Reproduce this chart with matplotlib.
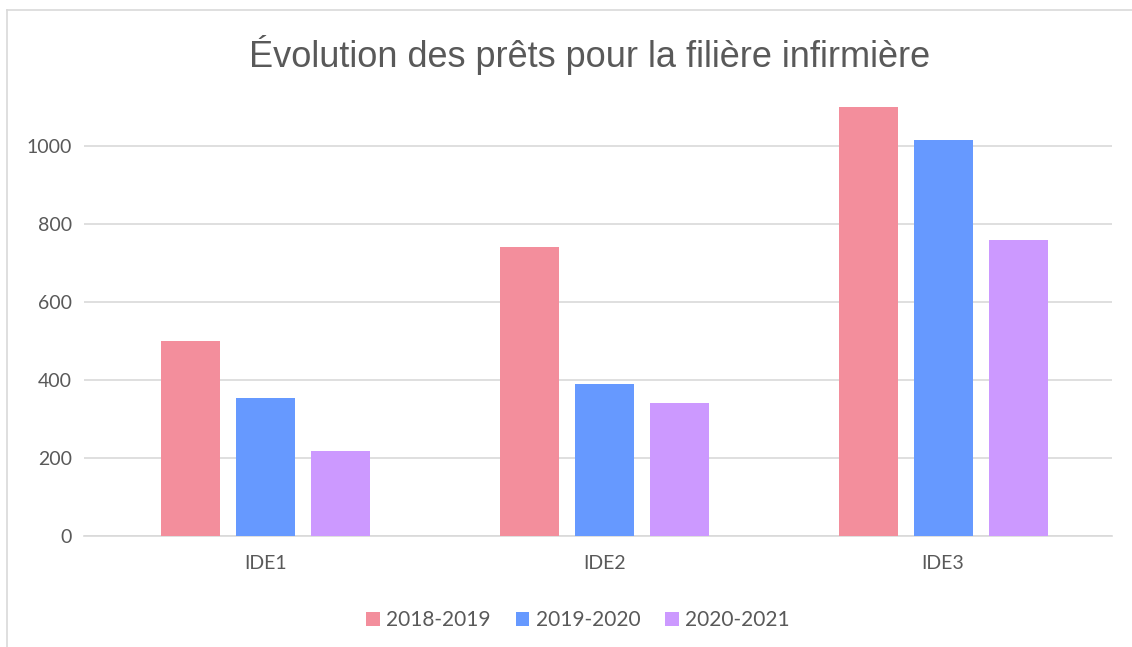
import matplotlib
matplotlib.use("Agg")
import matplotlib.pyplot as plt
from matplotlib.lines import Line2D
import numpy as np

categories = ["IDE1", "IDE2", "IDE3"]
series_names = ["2018-2019", "2019-2020", "2020-2021"]
v_2018_2019 = [499, 741, 1100]
v_2019_2020 = [354, 389, 1015]
v_2020_2021 = [218, 341, 759]
yticks = [0, 200, 400, 600, 800, 1000]

colors = ["#F38E9C", "#6699FF", "#CC99FF"]
text_color = "#595959"

W, H = 1132, 647
fig = plt.figure(figsize=(W / 100, H / 100), dpi=100)
ax = fig.add_axes([84 / W, 1 - 536 / H, (1112 - 84) / W, (536 - 106) / H])

x = np.arange(len(categories))
bw = 0.174
off = 0.2212
for i, (vals, name) in enumerate(zip([v_2018_2019, v_2019_2020, v_2020_2021], series_names)):
    ax.bar(x + (i - 1) * off, vals, width=bw, color=colors[i], label=name, zorder=3)

ax.set_xlim(-0.5354, 2.4985)
ax.set_ylim(0, 1103)
ax.set_yticks(yticks)
ax.set_xticks(x)
ax.set_xticklabels(categories)
ax.grid(axis="y", color="#D9D9D9", linewidth=1.2, zorder=0)
for s in ["top", "right", "left"]:
    ax.spines[s].set_visible(False)
ax.spines["bottom"].set_color("#D9D9D9")
ax.spines["bottom"].set_linewidth(1.2)
ax.tick_params(axis="both", length=0, labelsize=14, labelcolor=text_color, colors=text_color)
ax.tick_params(axis="x", pad=14)
ax.tick_params(axis="y", pad=8.6)
for lab in ax.get_xticklabels() + ax.get_yticklabels():
    lab.set_fontfamily(["Lato", "DejaVu Sans"])

fig.text(590 / W, 1 - 55 / H, "Évolution des prêts pour la filière infirmière",
         ha="center", va="center", fontsize=26, color=text_color,
         family=["Liberation Sans", "DejaVu Sans"])

leg = fig.legend(loc="center", bbox_to_anchor=(578 / W, 1 - 620 / H), ncol=3, frameon=False,
                 prop={"family": ["Lato", "DejaVu Sans"], "size": 15},
                 handlelength=0.65, handleheight=0.65, handletextpad=0.3, columnspacing=1.2)
for t in leg.get_texts():
    t.set_color(text_color)

fig.add_artist(Line2D([7 / W, 7 / W], [0, 1 - 10 / H], transform=fig.transFigure, color="#D9D9D9", lw=1.2))
fig.add_artist(Line2D([7 / W, 1], [1 - 10 / H, 1 - 10 / H], transform=fig.transFigure, color="#D9D9D9", lw=1.2))

fig.savefig("out.png", dpi=100, facecolor="white")
